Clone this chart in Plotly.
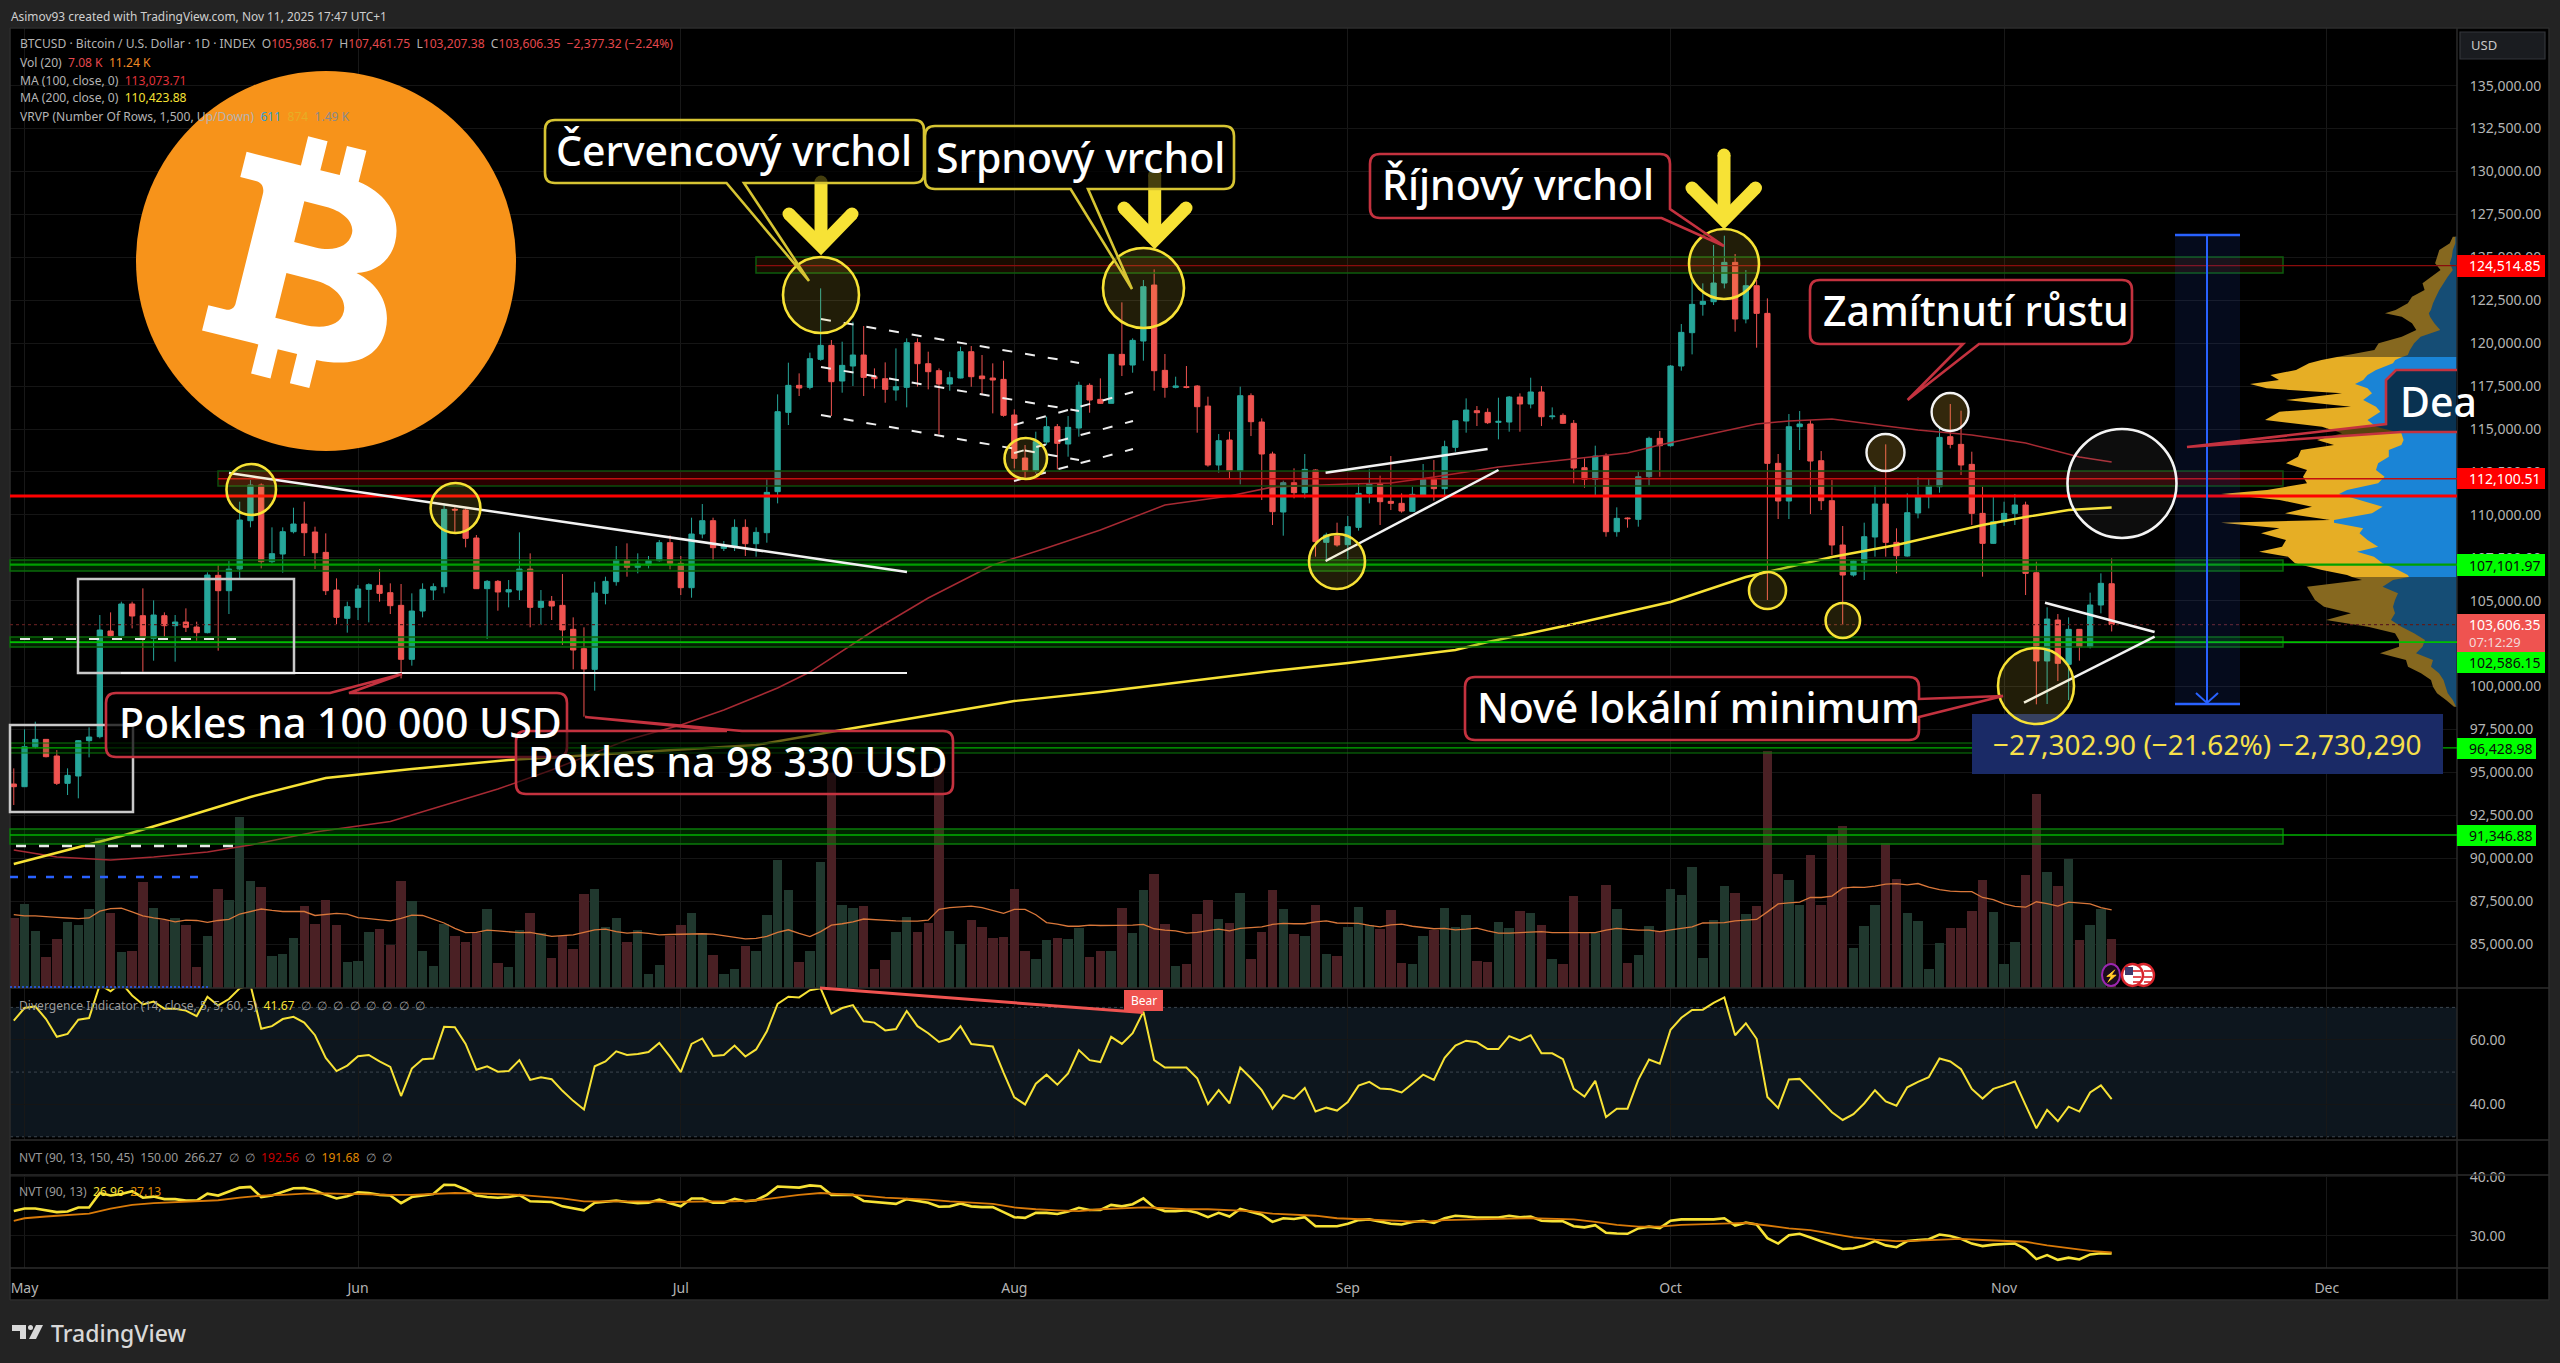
#!/usr/bin/env python3
import math
import pandas as pd
import plotly.graph_objects as go

W, H = 2560, 1363

# --- daily candles, 30 Apr to 11 Nov 2025
opens = [94319,94164,96494,96921,95951,94358,94786,96844,97077,103232,102960,104805,104125,102805,104125,103543,103756,103465,103135,106475,105581,106844,109659,111737,107271,107717,109018,109465,108999,107814,105620,
 103970,104611,105659,105892,105465,104727,101582,104397,105620,105814,110319,110280,108649,105698,106125,105504,105620,106844,104610,104960,104727,103329,102203,100999,105426,106106,107368,106941,107076,107329,108377,107173,
 105756,108882,109659,108047,108183,109270,108319,108960,111348,115969,117542,117426,119057,119872,117795,118668,119309,118047,117930,117270,117426,120027,118804,118396,117620,117969,119503,118086,117969,117891,
 115814,113309,112552,114241,115134,114125,115057,117542,116727,116494,119348,118727,120124,123386,118415,117426,117464,117503,116338,112901,114357,112552,116940,115406,113542,110164,111873,111290,112610,108397,108766,
 108261,109271,111251,111775,110785,110669,110203,111154,112067,111523,113930,115464,116066,115969,115387,115406,116863,116455,117155,115716,115794,115329,112746,112066,113426,109018,109814,109737,112222,114455,
 114027,118668,120610,122260,122415,123503,124707,121406,123348,121736,112999,110804,115134,115290,113154,110824,108242,106494,107212,108708,110630,108397,107601,110106,111057,111639,114552,114105,112940,110086,108338,
 109601,110086,110572,106629,101485,103873,101290,103329,102320,104747,105986.17]
highs = [95232,97504,97950,96921,96300,95232,96883,97620,104164,104319,104941,104941,105717,105018,104319,104164,104552,103776,106649,107076,107310,110766,112028,111834,109271,109271,110416,110766,109309,108921,106300,
 104941,105911,106009,106844,106009,105970,105426,106009,106009,110669,110436,110378,108824,106203,106203,106203,108979,107756,105620,105271,106552,104028,103446,106106,106397,108183,108339,107756,107600,108532,108804,107600,
 109833,110629,109833,108474,109736,109736,109270,112066,117018,118862,118241,119445,123192,120183,120086,121251,120998,118532,118882,119697,120280,120280,119503,118532,118338,119794,119833,119309,118824,118979,
 116144,114066,114843,115717,115290,115756,117756,117659,117950,119348,122377,120280,123678,124299,119367,118047,118668,117561,116882,114707,114843,117464,117076,115620,113678,111989,112708,113543,112649,108960,109543,
 109931,111834,112649,112280,113426,111251,111640,112960,113193,114319,115522,116785,116338,116202,116823,116921,117076,117989,117503,116260,115911,115523,113290,114027,113581,110436,109853,112494,114552,114881,
 118727,121115,123678,123484,125717,126260,125192,124260,123678,122610,113543,115872,116047,115523,113717,112028,109349,107368,109543,111737,114106,109213,111251,112183,112125,115037,116455,116066,113678,111639,111096,
 110765,111212,110765,107271,104611,104222,104028,103329,105465,106590,107461.75]
lows = [93096,94164,96397,95873,94261,93679,93485,95873,96980,102902,102902,103387,100863,101504,102902,101446,103174,102669,103096,102086,104222,106300,109271,106882,107174,106630,108921,107601,106844,105329,103620,
 103135,103873,103737,104941,104222,100475,101213,104028,105038,105426,108921,108106,105678,102766,104416,104610,105038,103446,103582,103873,102416,100999,98242,99756,104785,105873,106397,106591,106882,107270,106824,105329,
 105173,108630,107329,107892,107892,107600,107561,108377,110668,115231,116921,117309,118979,115756,117115,117503,116921,117367,116532,116649,116260,117464,117309,114688,117231,117950,117464,116979,115911,115717,
 112707,112124,112416,114066,112649,113387,114552,115950,116455,116494,118086,118280,118979,117231,116824,117367,117367,114785,112804,112454,112124,111775,114590,110862,109407,108785,110960,110960,107562,107271,108144,
 107368,109077,110669,109407,110280,110125,110164,111135,110824,111057,113678,114785,115173,115290,114397,114843,114843,116202,115173,115562,115290,111833,111581,111154,108727,108727,109251,109310,111697,112222,
 113969,118396,119348,121600,122222,123192,120668,121154,119736,105038,109756,109756,113775,110047,110280,107659,103582,106400,106203,107562,107562,106591,107562,109795,110377,111290,113872,112319,109407,106397,108300,
 109348,109407,105329,98960,98980,100320,99213,101504,102222,104261,103207.38]
closes = [94164,96494,96921,95912,94358,94824,96844,97057,103290,102960,104805,104106,102805,104164,103543,103756,103446,103135,106494,105581,106844,109698,111737,107271,107737,109018,109465,108960,107795,105581,104028,
 104649,105679,105931,105426,104708,101582,104397,105659,105814,110319,110280,108630,105698,106125,105504,105640,106844,104610,104960,104688,103290,102125,101019,105446,106125,107368,106941,107135,107329,108377,107173,105756,
 108882,109659,108086,108183,109270,108319,108979,111309,116008,117542,117387,119095,119872,117756,118707,119309,118008,117930,117309,117464,120027,118804,118338,117620,117989,119503,118047,117930,117853,115795,
 113290,112552,114261,115134,114164,115095,117542,116688,116494,119348,118727,120163,123290,118396,117426,117503,117426,116300,112901,114319,112552,116940,115425,113542,110183,111873,111290,112649,108436,108824,108242,
 109310,111251,111795,110766,110669,110222,111193,112067,111523,113970,115484,116105,115950,115367,115445,116863,116455,117155,115716,115755,115329,112727,112066,113425,109018,109795,109776,112222,114455,114027,
 118668,120629,122260,122435,123503,124707,121406,123348,121736,112998,110805,115134,115290,113134,110824,108242,106494,107310,108727,110630,108397,107620,110125,111057,111678,114513,114105,112902,110086,108338,109601,
 110086,110572,106591,101485,103931,101349,103329,102320,104747,106009,103606.35]

# volume in BTC thousands
volumes = [10.03,12.10,8.22,4.50,7.08,9.51,9.10,11.32,21.66,10.75,5.22,5.33,15.30,11.58,9.77,10.13,9.00,3.05,7.44,14.32,12.61,24.61,15.41,14.58,4.65,4.96,7.19,11.79,9.25,12.72,9.10,3.72,3.83,8.07,8.48,6.15,15.41,12.46,5.38,3.10,
 9.25,7.44,6.67,7.96,11.37,3.57,3.05,8.38,10.81,7.86,4.34,7.55,5.64,13.55,14.27,8.74,10.03,6.67,8.38,2.07,3.31,7.55,9.00,10.75,7.86,4.76,2.07,2.79,6.10,5.38,10.55,18.46,14.06,3.72,5.33,18.10,31.0,11.99,11.48,11.84,2.69,3.98,8.07,10.24,8.07,9.41,31.7,
 8.22,6.31,9.77,8.74,7.19,7.29,14.27,5.38,4.24,6.93,7.13,7.03,8.58,4.45,5.38,5.27,11.58,7.86,14.17,16.34,9.25,3.10,3.46,10.65,12.61,9.87,9.36,13.65,4.19,8.07,14.17,
 11.43,7.81,7.55,11.99,4.96,4.65,8.84,11.68,9.00,8.48,11.17,3.57,3.41,7.55,8.32,11.58,8.74,10.44,3.83,3.72,9.46,8.58,11.06,10.81,9.00,4.19,3.46,13.29,7.96,7.96,14.79,11.32,3.57,4.76,8.89,8.22,14.27,13.39,17.37,4.34,9.77,14.63,13.70,10.70,11.74,34.1,
 16.39,15.51,11.99,19.08,11.99,22.02,23.37,5.79,8.89,11.99,20.89,15.72,10.81,9.67,2.79,6.41,8.58,8.69,11.06,15.51,10.96,3.41,6.62,16.29,28.0,16.70,14.63,18.56,6.93,9.00,11.43,7.08]
vol_ma = [10.55,10.39,10.39,10.24,10.18,10.08,9.98,10.08,11.06,11.43,11.48,10.96,10.39,10.08,9.87,9.51,9.77,9.72,9.46,9.72,9.87,10.65,11.06,11.37,11.17,11.01,11.01,11.01,10.44,10.60,10.75,10.65,10.13,9.98,9.87,9.67,10.03,10.50,10.44,9.93,
 9.36,8.58,7.96,8.01,8.32,8.22,8.07,7.96,8.01,7.76,7.44,7.55,7.65,8.01,8.38,8.48,8.12,7.91,8.01,7.86,7.65,7.70,7.76,7.81,7.81,7.76,7.50,7.24,7.08,7.13,7.44,8.01,8.38,7.86,7.39,8.12,9.05,9.25,9.51,9.93,9.82,9.72,9.67,9.62,9.62,9.77,11.32,
 11.58,11.68,11.79,11.58,11.17,10.75,11.32,11.32,10.55,9.41,9.20,8.89,8.89,9.05,9.00,9.00,9.00,9.05,9.15,8.53,8.32,8.22,7.91,8.01,8.27,8.48,8.22,8.58,8.69,8.79,9.15,
 9.31,9.25,9.25,9.51,9.67,9.36,9.31,9.31,9.00,8.79,9.10,9.20,8.89,8.69,8.53,8.58,8.38,8.48,8.63,8.22,7.91,7.91,8.01,8.01,8.12,7.96,7.96,7.91,7.91,7.96,8.32,8.58,8.43,8.32,8.32,8.12,8.38,8.58,8.79,9.36,9.36,9.41,9.67,9.77,9.87,10.96,
 12.10,12.25,12.36,13.03,13.03,13.24,14.37,14.53,14.48,14.68,14.94,15.04,14.84,15.04,14.53,14.17,13.96,13.86,13.86,13.03,12.72,12.10,11.74,11.63,12.41,12.15,11.79,12.36,12.25,12.10,11.58,11.24]

# RSI of the divergence indicator
rsi = [65.9,69.8,70.3,66.4,60.9,61.8,66.2,66.7,77.0,75.0,77.6,73.7,70.9,71.8,69.6,69.6,69.0,67.3,73.3,70.6,72.6,75.9,77.0,63.4,64.2,66.4,67.1,65.3,61.4,54.4,50.3,52.0,54.9,55.3,53.3,51.6,42.6,51.1,54.0,54.2,
 64.0,63.9,58.7,50.7,51.8,50.1,50.3,53.7,47.6,48.4,47.8,44.2,41.1,38.4,51.8,53.3,56.4,55.3,55.6,56.2,59.0,54.8,50.0,58.7,60.4,55.0,55.3,58.2,54.8,57.0,62.6,71.1,73.3,73.1,75.3,75.9,68.1,69.8,70.7,65.7,65.3,62.9,63.3,68.9,64.2,62.0,59.3,
 60.3,64.2,58.7,58.3,57.9,49.8,42.2,40.0,46.4,49.2,46.1,49.6,56.8,53.7,53.1,60.9,58.7,62.0,68.7,53.7,51.4,51.4,51.4,48.1,40.1,44.4,40.3,51.4,48.1,44.4,38.7,
 42.9,41.8,45.1,37.8,39.0,38.1,40.7,45.8,47.0,44.9,44.7,43.7,46.4,49.2,47.6,54.4,58.2,59.7,59.2,57.1,57.1,61.1,59.8,61.4,55.8,55.8,54.0,44.8,42.4,47.3,36.1,38.7,38.7,47.6,53.9,52.6,63.1,66.8,69.2,69.3,71.4,73.1,61.4,65.1,60.3,42.3,
 38.9,47.7,47.9,44.6,41.1,37.6,35.2,37.0,40.3,44.4,40.9,39.6,45.3,47.0,48.4,54.2,53.3,50.9,44.8,41.8,44.8,45.9,47.1,39.8,32.6,38.3,34.8,39.3,37.8,43.7,45.9,41.67]

nvt = [34.17,34.60,34.60,34.30,33.99,34.11,34.79,34.79,37.24,36.81,37.06,37.55,36.44,36.63,36.20,36.20,35.95,35.95,37.12,36.81,37.55,38.16,38.28,36.56,36.81,37.36,38.04,38.10,37.67,36.93,36.32,36.69,37.36,37.24,36.93,36.81,35.52,36.56,36.75,37.06,
 38.65,38.59,37.85,36.81,36.56,36.44,36.56,36.87,35.83,35.83,35.71,34.97,34.60,34.30,35.58,35.71,35.95,35.71,35.52,35.58,36.13,35.52,34.97,36.32,36.32,35.58,35.58,36.26,35.83,36.01,36.93,38.34,38.28,38.16,38.53,38.40,36.93,36.93,36.93,35.89,35.71,35.58,35.40,36.20,35.83,35.58,34.91,
 34.97,35.46,34.97,34.85,34.85,33.99,33.13,33.01,33.87,33.87,33.68,34.11,34.72,34.36,34.36,35.22,34.97,35.34,36.32,34.79,34.17,34.17,34.30,33.87,33.13,33.87,33.25,34.54,33.99,33.56,32.33,
 32.95,32.82,33.13,31.60,31.60,31.60,32.03,32.64,32.76,32.33,32.03,31.90,32.33,32.52,32.15,32.95,33.38,33.25,33.07,33.07,33.07,33.38,33.13,33.25,32.52,32.45,32.45,31.60,31.41,31.78,30.49,30.37,30.31,31.23,31.53,31.29,32.52,32.76,32.76,32.64,32.76,32.95,31.72,32.21,31.90,29.57,
 28.65,30.06,30.31,29.69,29.08,28.47,27.73,27.85,28.34,29.08,28.34,28.04,29.08,29.26,29.39,30.18,29.94,29.45,28.65,28.22,28.47,28.59,28.65,27.73,26.01,26.69,25.89,26.26,25.95,26.81,27.00,26.96]

# signal line of NVT, read every second day
nvt_signal_days = [-1] + list(range(0, 195, 2))
nvt_signal = [32.52,32.95,33.25,33.44,33.74,34.60,35.22,35.52,35.71,35.83,36.01,36.44,36.81,36.93,37.12,37.18,37.06,37.06,36.93,36.93,37.06,37.24,37.18,37.06,36.93,36.63,36.32,35.83,35.83,35.89,35.83,35.71,35.83,35.83,35.83,36.01,36.44,36.93,37.24,37.06,36.81,36.44,36.32,36.13,35.83,35.58,35.40,34.79,34.48,34.30,34.17,34.48,34.60,34.79,34.66,34.48,34.48,34.30,34.17,33.74,
 33.56,33.38,32.95,32.82,32.64,32.52,32.33,32.64,32.76,32.82,32.89,32.95,32.82,32.76,32.33,31.84,31.53,31.53,31.84,31.96,32.15,32.15,31.72,31.23,30.92,30.31,29.69,29.33,29.08,29.14,29.33,29.45,29.26,29.08,28.96,28.34,27.85,27.42,27.13]

# moving averages, read at the bends
ma200_days = [-1,9,14,21,28,36,45,68,76,85,92,100,106,116,123,133,136,139,144,153,160,168,174,182,186,190,194]
ma200 = [89660,91291,92223,93563,94670,95194,95718,96592,97466,98398,99155,99679,100145,100902,101368,102126,102592,102999,103640,104922,106378,107543,108242,109407,109873,110281,110423.88]
ma100_days = [-1,3,8,12,17,21,27,34,40,44,49,56,61,65,70,73,79,84,90,95,100,104,106,112,116,123,127,131,137,143,149,152,161,164,168,173,176,181,186,191,194]
ma100 = [90476,90068,89893,90068,90359,90767,91524,92136,93272,94029,95136,96883,97757,98631,99912,100844,103291,105155,107077,108067,109116,110106,110572,111096,111620,111795,111853,112203,112785,113193,113601,114067,115290,115465,115581,115174,114941,114649,114183,113368,113073.71]

# volume profile: price row, total and up-volume, three stretches
vp_top_price = [126202,125814,125426,125037,124649,124260,123872,123484,123095,122707,122319,121930,121736,121542,121154,120765,120377,119989,119600,119309,119193]
vp_top_total = [4.2,7.2,17.7,19.8,21.9,16.5,26.1,34.5,32.4,45.0,49.2,61.4,72.0,55.2,45.0,40.7,55.2,78.4,82.6,110,120]
vp_top_up = [1.7,1.7,4.2,5.1,7.2,4.2,9.3,13.5,17.7,21.0,24.0,26.1,28.2,27.0,22.7,16.8,36.4,42.9,47.1,49.2,55]
vp_mid_price = [119193,119018,118824,118435,118144,117853,117620,117367,117076,116688,116300,116008,115523,115134,114746,114358,114067,113775,113387,112998,112610,112222,111833,111445,111212,110863,110474,110086,109697,109542,109212,108921,108533,108145,107853,107562,107174,106785,106494,106378]
vp_mid_total = [120,135.5,148,161,186.6,178,207,190.3,115,171,106,177.5,192,135,115,140,123,156,159,171,150,154,150,190,236,177.5,145,172,127,236,177.5,196,171,175,198,169,162,135,110,105]
vp_mid_up = [55,61.8,64,81,89.5,93.8,102,89.5,85,93.8,81,76.6,89.5,81,55.6,53.4,55.6,68.2,68.2,78.9,81,72.4,78.9,110,118,97.5,74.4,85,123,123,93.8,97.5,89.5,78.9,100,83,74.4,59,49.2,48]
vp_low_price = [106378,106203,105815,105426,105038,104650,104262,103873,103485,103097,102709,102320,101932,101544,101155,100767,100379,99990,99602,99214,98825]
vp_low_total = [105,95,150,146,142,133,106,131,89,62,58,58,77,51,49,36,26,24,20,11,3]
vp_low_up = [48,64,74.4,59,62,64,62,66,55.6,43,32,34.5,41,24,26,18,13.5,11.4,9.3,4.2,1]

price_ticks = list(range(85000, 135001, 2500))
month_ticks = ["2025-05-01", "2025-06-01", "2025-07-01", "2025-08-01", "2025-09-01", "2025-10-01", "2025-11-01", "2025-12-01"]
month_labels = ["May", "Jun", "Jul", "Aug", "Sep", "Oct", "Nov", "Dec"]

assert all(len(a) == 196 for a in [opens, highs, lows, closes, volumes, vol_ma, rsi, nvt]), [len(a) for a in [opens, highs, lows, closes, volumes, vol_ma, rsi, nvt]]
assert len(nvt_signal) == len(nvt_signal_days), (len(nvt_signal), len(nvt_signal_days))

start = pd.Timestamp("2025-05-01")
dates = pd.date_range("2025-04-30", periods=196)


def day_dates(days):
    return [start + pd.Timedelta(days=d) for d in days]


def fx(x):
    return x / W


def fy(y):
    return 1 - y / H


FONT = "Noto Sans"
GREEN, RED = "#26a69a", "#ef5350"
TEXT = "#b4b4b4"
GRID = "#151515"
YEL = "#f7e235"
BOXRED = "#c4323f"
BOXYEL = "#d6c433"

fig = go.Figure()
bar_colors = ["#20382e" if c >= o else "#4a2024" for o, c in zip(opens, closes)]
fig.add_trace(go.Bar(x=dates, y=volumes, marker=dict(color=bar_colors, line_width=0), width=0.88 * 86400000, yaxis="y", xaxis="x"))
fig.add_trace(go.Scatter(x=dates, y=vol_ma, mode="lines", line=dict(color="#d9773a", width=1.3), yaxis="y", xaxis="x"))

fig.add_trace(go.Candlestick(x=dates, open=opens, high=highs, low=lows, close=closes, xaxis="x", yaxis="y2",
                             increasing=dict(line=dict(color=GREEN, width=1), fillcolor=GREEN),
                             decreasing=dict(line=dict(color=RED, width=1), fillcolor=RED), whiskerwidth=0))
fig.add_trace(go.Scatter(x=day_dates(ma100_days), y=ma100, mode="lines", line=dict(color="#a62a33", width=1.5), xaxis="x", yaxis="y2"))
fig.add_trace(go.Scatter(x=day_dates(ma200_days), y=ma200, mode="lines", line=dict(color=YEL, width=2.4), xaxis="x", yaxis="y2"))

# volume profile grows leftwards from the price axis
for prices, total, up, c_total, c_up in [
    (vp_top_price, vp_top_total, vp_top_up, "#86681f", "#154d75"),
    (vp_mid_price, vp_mid_total, vp_mid_up, "#e6ae25", "#1a84d6"),
    (vp_low_price, vp_low_total, vp_low_up, "#86681f", "#154d75"),
]:
    fig.add_trace(go.Scatter(x=total, y=prices, mode="lines", line=dict(width=0, color=c_total), fill="tozerox", fillcolor=c_total, xaxis="x2", yaxis="y2"))
    fig.add_trace(go.Scatter(x=up, y=prices, mode="lines", line=dict(width=0, color=c_up), fill="tozerox", fillcolor=c_up, xaxis="x2", yaxis="y2"))

fig.add_trace(go.Scatter(x=dates, y=rsi, mode="lines", line=dict(color=YEL, width=2), xaxis="x", yaxis="y3"))
fig.add_trace(go.Scatter(x=dates, y=nvt, mode="lines", line=dict(color=YEL, width=2.6), xaxis="x", yaxis="y4"))
fig.add_trace(go.Scatter(x=day_dates(nvt_signal_days), y=nvt_signal, mode="lines", line=dict(color="#d97a08", width=1.8), xaxis="x", yaxis="y4"))

shapes = []
notes = []


def rect(x0, y0, x1, y1, fill="rgba(0,0,0,0)", line="rgba(0,0,0,0)", width=1, layer="above"):
    shapes.append(dict(type="rect", xref="paper", yref="paper", x0=fx(x0), x1=fx(x1), y0=fy(y0), y1=fy(y1),
                       fillcolor=fill, line=dict(color=line, width=width), layer=layer))


def seg(x0, y0, x1, y1, color="#ffffff", width=2, dash="solid"):
    shapes.append(dict(type="line", xref="paper", yref="paper", x0=fx(x0), x1=fx(x1), y0=fy(y0), y1=fy(y1),
                       line=dict(color=color, width=width, dash=dash), layer="above"))


def level(price, x0, x1, color, width=1, dash="solid"):
    shapes.append(dict(type="line", xref="paper", yref="y2", x0=fx(x0), x1=fx(x1), y0=price, y1=price,
                       line=dict(color=color, width=width, dash=dash), layer="above"))


def oval(x0, y0, x1, y1, line=YEL, fill="rgba(255,225,60,0.13)", width=2.6):
    shapes.append(dict(type="circle", xref="paper", yref="paper", x0=fx(x0), x1=fx(x1), y0=fy(y0), y1=fy(y1),
                       fillcolor=fill, line=dict(color=line, width=width), layer="above"))


def path(d, fill="rgba(0,0,0,0)", line="rgba(0,0,0,0)", width=1):
    shapes.append(dict(type="path", xref="paper", yref="paper", path=d, fillcolor=fill, line=dict(color=line, width=width), layer="above"))


def pt(x, y):
    return f"{fx(x):.6f},{fy(y):.6f}"


def polyline(pts, close=False):
    d = "M " + " L ".join(pt(x, y) for x, y in pts)
    return d + (" Z" if close else "")


def callout(x0, y0, x1, y1, color, top=(), right=(), bottom=(), r=10, sharp_br=False, fill="rgba(0,0,0,0.72)"):
    d = f"M {pt(x0 + r, y0)}"
    for p in top:
        d += f" L {pt(*p)}"
    d += f" L {pt(x1 - r, y0)} Q {pt(x1, y0)} {pt(x1, y0 + r)}"
    for p in right:
        d += f" L {pt(*p)}"
    if not sharp_br:
        d += f" L {pt(x1, y1 - r)} Q {pt(x1, y1)} {pt(x1 - r, y1)}"
    for p in bottom:
        d += f" L {pt(*p)}"
    d += f" L {pt(x0 + r, y1)} Q {pt(x0, y1)} {pt(x0, y1 - r)} L {pt(x0, y0 + r)} Q {pt(x0, y0)} {pt(x0 + r, y0)} Z"
    path(d, fill=fill, line=color, width=2.6)


def text(x, y, s, size=13, color=TEXT, anchor="left", weight=None, **kw):
    f = dict(family=FONT, size=size, color=color)
    if weight:
        f["weight"] = weight
    notes.append(dict(xref="paper", yref="paper", x=fx(x), y=fy(y), text=s, showarrow=False, xanchor=anchor, yanchor="middle",
                      font=f, borderpad=0, **kw))


def arrow(x, y0, y1, xl, xr, yh):
    seg(x, y0, x, y1 - 8, YEL, 13)
    path(polyline([(xl, yh), (x, y1 - 8), (xr, yh)]), line=YEL, width=13)
    for cx, cy in [(x, y0), (xl, yh), (xr, yh)]:
        shapes.append(dict(type="circle", xref="paper", yref="paper", x0=fx(cx - 6.5), x1=fx(cx + 6.5), y0=fy(cy - 6.5), y1=fy(cy + 6.5),
                           fillcolor=YEL, line_width=0, layer="above"))


# separators
for y in [988, 1140, 1175, 1268, 1300]:
    seg(10, y, 2549, y, "#2c2c2c", 1.5)
seg(2457, 28, 2457, 1300, "#2a2a2a", 1.5)
seg(2549, 28, 2549, 1300, "#2c2c2c", 1.5)
seg(10, 28, 10, 1300, "#2c2c2c", 1.5)
seg(10, 28, 2549, 28, "#2c2c2c", 1.5)
# the chart's black ground also runs behind the axis strips
rect(2457, 28, 2549, 1300, fill="#000000", layer="below")
rect(10, 1140, 2457, 1175, fill="#000000", layer="below")
rect(10, 1268, 2457, 1300, fill="#000000", layer="below")

# bitcoin logo
oval(136, 71, 516, 451, line="#f7931a", fill="#f7931a", width=0)
LOGO_X, LOGO_Y, LOGO_A = 300, 260, math.radians(14)


def lg(x, y):
    return (LOGO_X + x * math.cos(LOGO_A) - y * math.sin(LOGO_A), LOGO_Y + x * math.sin(LOGO_A) + y * math.cos(LOGO_A))


def lp(x, y):
    return pt(*lg(x, y))


logo = (f"M {lp(-78,-92)} L {lp(-22,-92)} L {lp(-22,-122)} L {lp(-2,-122)} L {lp(-2,-92)} L {lp(18,-92)} L {lp(18,-122)} L {lp(38,-122)} L {lp(38,-90)} "
        f"C {lp(70,-85)} {lp(88,-65)} {lp(88,-40)} C {lp(88,-20)} {lp(75,-6)} {lp(58,-1)} C {lp(85,5)} {lp(100,25)} {lp(100,48)} C {lp(100,78)} {lp(75,92)} {lp(40,93)} "
        f"L {lp(40,122)} L {lp(20,122)} L {lp(20,92)} L {lp(0,92)} L {lp(0,122)} L {lp(-20,122)} L {lp(-20,92)} L {lp(-78,92)} L {lp(-78,66)} L {lp(-60,66)} "
        f"C {lp(-55,66)} {lp(-52,62)} {lp(-52,58)} L {lp(-52,-55)} C {lp(-52,-62)} {lp(-56,-66)} {lp(-62,-66)} L {lp(-78,-66)} Z "
        f"M {lp(-10,-58)} L {lp(12,-58)} C {lp(30,-58)} {lp(44,-50)} {lp(44,-38)} C {lp(44,-24)} {lp(30,-16)} {lp(12,-16)} L {lp(-10,-16)} Z "
        f"M {lp(-10,16)} L {lp(18,16)} C {lp(40,16)} {lp(55,26)} {lp(55,40)} C {lp(55,54)} {lp(40,62)} {lp(18,62)} L {lp(-10,62)} Z")
path(logo, fill="#ffffff")

# support and resistance zones
rect(756, 257, 2283, 273, fill="rgba(150,70,0,0.16)", line="#0d5c0d", width=1.5)
rect(218, 471, 2283, 486, fill="rgba(190,0,0,0.22)", line="#0d4d0d", width=1.5)
rect(10, 560, 2283, 571, fill="rgba(0,130,0,0.28)", line="#0a6a0a", width=1.5)
rect(10, 637, 2283, 647, fill="rgba(0,130,0,0.25)", line="#0a6a0a", width=1.5)
rect(10, 743, 2283, 753, fill="rgba(0,90,0,0.16)", line="#0a7a0a", width=1.2)
rect(10, 829, 2283, 844, fill="rgba(0,130,0,0.28)", line="#0a7a0a", width=1.5)
level(124514.85, 756, 2457, "#8a0c0c", 1.3)
level(112100.51, 218, 2457, "#c20f0f", 1.5)
level(111096, 10, 2457, "#ff0000", 3)
level(107101.97, 10, 2457, "#00a000", 2.2)
level(102586.15, 10, 2457, "#00c000", 1.6)
level(96428.98, 10, 2457, "#00b000", 1.2)
level(91346.88, 10, 2457, "#00b000", 1.6)
level(103606.35, 10, 2457, "#5a1c1c", 1.2, "dot")

# boxes and hand drawn trend lines
rect(78, 579, 294, 673, line="#c9c9c9", width=2.5)
rect(10, 725, 133, 812, line="#c9c9c9", width=2.5)
seg(121, 673, 907, 673, "#f2f2f2", 2)
seg(229, 473, 907, 572, "#f2f2f2", 2.5)
seg(20, 639, 236, 639, "#e8e8e8", 2, "10px,13px")
seg(16, 846, 237, 846, "#e8e8e8", 2.5, "10px,13px")
seg(10, 877, 204, 877, "#2962ff", 2.5, "8px,10px")
seg(10, 987, 210, 987, "#2962ff", 1.5, "2px,2px")
seg(1325.6, 472.7, 1487.6, 449, "#f2f2f2", 2.5)
seg(1325.6, 561, 1498.5, 470, "#f2f2f2", 2.5)
seg(2045, 602.7, 2154.6, 632, "#f2f2f2", 2.5)
seg(2024, 702.7, 2154.6, 636.7, "#f2f2f2", 2.5)
for a in [(821, 319, 1079, 363), (821, 367, 1079, 411), (821, 415, 1079, 460),
          (1014, 425, 1133, 392), (1014, 453, 1133, 421), (1014, 481, 1133, 449)]:
    seg(*a, "#eeeeee", 2, "10px,13px")

# measure tool
rect(2175, 235, 2240, 704, fill="rgba(41,98,255,0.11)")
seg(2175, 235, 2240, 235, "#2962ff", 2.5)
seg(2175, 704, 2240, 704, "#2962ff", 2.5)
seg(2207, 235, 2207, 703, "#2962ff", 2)
path(polyline([(2196, 693), (2207, 703), (2218, 693)]), line="#2962ff", width=2)
rect(1972, 714, 2443, 774, fill="#1a2a66")
text(2207.5, 744, "−27,302.90 (−21.62%) −2,730,290", 28, "#f7e04a", "center")

# circles
for a in [(226.5, 464, 276, 515), (430.6, 483, 480.4, 533), (783, 257, 859, 333), (1103, 248, 1184, 328), (1004.5, 438, 1047, 479),
          (1689, 229, 1759, 299), (1309, 534, 1365, 589), (1749, 572, 1786, 609), (1825.6, 603, 1860, 638), (1998, 648, 2074, 724)]:
    oval(*a)
oval(1866.5, 434, 1904.5, 471, line="#f4f4f4", fill="rgba(255,200,60,0.2)", width=2.4)
oval(1931.6, 393, 1968.6, 431, line="#f4f4f4", fill="rgba(255,200,60,0.2)", width=2.4)
oval(2067.5, 429, 2176.5, 538, line="#f4f4f4", fill="rgba(255,255,255,0.05)", width=2.6)

arrow(821, 182, 254, 789, 852, 214)
arrow(1154.7, 175, 248, 1124, 1186, 208)
arrow(1724, 155, 228, 1692, 1755.5, 188)

# callouts
callout(545, 120, 924, 183, BOXYEL, bottom=[(744, 183), (809, 281), (726.5, 183)])
callout(925, 126, 1234, 189, BOXYEL, bottom=[(1088, 189), (1132, 289), (1070.6, 189)])
callout(1370, 154, 1670, 218, BOXRED, right=[(1670, 209), (1724, 246), (1661.6, 218)], sharp_br=True)
callout(1810, 280, 2132, 344, BOXRED, bottom=[(1979, 344), (1907.6, 400), (1963, 344)])
callout(106, 693, 567, 757, BOXRED, top=[(330, 693), (402, 674), (349, 693)])
callout(516, 731, 953, 794, BOXRED, top=[(727, 731), (585, 717), (742, 731)], fill="rgba(0,0,0,0.55)")
callout(1465, 677, 1919, 740, BOXRED, right=[(1919, 699), (2003, 696), (1919, 717)])
path(polyline([(2457, 370), (2396, 370), (2386, 380), (2386, 424), (2187, 447), (2401, 432), (2457, 432)]), fill="rgba(0,0,0,0.62)", line=BOXRED, width=2.6)

# divergence marker
seg(820, 988, 1143, 1012.6, RED, 3)
rect(1124, 990, 1163, 1011, fill=RED)
text(1143.5, 1000.5, "Bear", 12, "#ffffff", "center")

# flags and event icons at the last candle
oval(2102, 964, 2120, 986, line="#9c27b0", fill="#1a0b1e", width=2)
text(2111, 975, "⚡", 12, "#9c27b0", "center")
oval(2133, 964, 2154, 986, line="#d8232a", fill="#ffffff", width=2.4)
oval(2122, 964, 2143, 986, line="#d8232a", fill="#ffffff", width=2.4)
rect(2125, 967, 2133, 975, fill="#3c3b6e")
for y in [971, 977, 982]:
    seg(2133, y, 2141, y, "#d8232a", 1.6)
    seg(2144, y, 2152, y, "#d8232a", 1.6)

# right axis furniture
rect(2460, 32, 2545, 59, fill="#1a1c20", line="#32353a", width=1.2)
text(2470, 45, "USD", 13, "#c8c8c8")
tags = [(255, 277, 2545, "#ff0000", "124,514.85", "#ffffff"), (468, 489, 2545, "#ff0000", "112,100.51", "#ffffff"),
        (554, 576, 2545, "#00ff00", "107,101.97", "#0a0a0a"), (652, 673, 2545, "#00ff00", "102,586.15", "#0a0a0a"),
        (738, 759, 2536, "#00ff00", "96,428.98", "#0a0a0a"), (825, 846, 2536, "#00ff00", "91,346.88", "#0a0a0a")]
rect(2457, 614, 2545, 652, fill=RED)
for y0, y1, x1, col, s, tc in tags:
    rect(2457, y0, x1, y1, fill=col)
    text(2468, (y0 + y1) / 2, s, 14, tc)
text(2468, 624.5, "103,606.35", 14, "#ffffff")
text(2468, 642, "07:12:29", 13, "#f4d9d8")

# tradingview mark in the footer
path(polyline([(12, 1325), (26, 1325), (26, 1339), (20, 1339), (20, 1331), (12, 1331)], True), fill="#d8d8d8")
path(polyline([(36, 1325), (43, 1325), (36, 1339), (29, 1339)], True), fill="#d8d8d8")
shapes.append(dict(type="circle", xref="paper", yref="paper", x0=fx(28), x1=fx(33), y0=fy(1325), y1=fy(1330), fillcolor="#d8d8d8", line_width=0, layer="above"))

# band of the oscillator
shapes.append(dict(type="rect", xref="paper", yref="y3", x0=fx(10), x1=fx(2457), y0=30, y1=70, fillcolor="#0d161e", line_width=0, layer="below"))
for v in [70, 50, 30]:
    shapes.append(dict(type="line", xref="paper", yref="y3", x0=fx(10), x1=fx(2457), y0=v, y1=v,
                       line=dict(color="#3d4650", width=1, dash="dot"), layer="below"))

# callout labels
BIG = 41
text(555, 150, "Červencový vrchol", BIG, "#ffffff", weight=500)
text(935, 157, "Srpnový vrchol", BIG, "#ffffff", weight=500)
text(1381, 184, "Říjnový vrchol", BIG, "#ffffff", weight=500)
text(1822, 310, "Zamítnutí růstu", BIG, "#ffffff", weight=500)
text(118, 722, "Pokles na 100 000 USD", BIG, "#ffffff", weight=500)
text(527, 761, "Pokles na 98 330 USD", BIG, "#ffffff", weight=500)
text(1476, 707, "Nové lokální minimum", BIG, "#ffffff", weight=500)
text(2399, 401, "Dea", BIG, "#ffffff", weight=500)

# legend lines
text(10, 16, "Asimov93 created with TradingView.com, Nov 11, 2025 17:47 UTC+1", 11.9, "#cfcfcf")
r = "#e5484d"
LEG = 12.1
text(19, 44, "BTCUSD · Bitcoin / U.S. Dollar · 1D · INDEX  O"
     f"<span style='color:{r}'>105,986.17</span>  H<span style='color:{r}'>107,461.75</span>  L<span style='color:{r}'>103,207.38</span>  "
     f"C<span style='color:{r}'>103,606.35</span>  <span style='color:{r}'>−2,377.32 (−2.24%)</span>", LEG)
text(19, 62, f"Vol (20)  <span style='color:{r}'>7.08 K</span>  <span style='color:#f08a24'>11.24 K</span>", LEG)
text(19, 80, "MA (100, close, 0)  <span style='color:#e0323a'>113,073.71</span>", LEG)
text(19, 98, "MA (200, close, 0)  <span style='color:#f7e235'>110,423.88</span>", LEG)
text(19, 116, "VRVP (Number Of Rows, 1,500, Up/Down)  <span style='color:#2f9fd8'>611</span>  <span style='color:#e6ae25'>874</span>  <span style='color:#8a8a8a'>1.49 K</span>", LEG)
text(18, 1005, "Divergence Indicator (14, close, 5, 5, 60, 5)  <span style='color:#f7e235'>41.67</span>  <span style='color:#9a9a9a'>∅  ∅  ∅  ∅  ∅  ∅  ∅  ∅</span>", LEG, "#9a9a9a")
text(18, 1157, "NVT (90, 13, 150, 45)  150.00  266.27  ∅  ∅  <span style='color:#c80000'>192.56</span>  ∅  <span style='color:#e08a00'>191.68</span>  ∅  ∅", LEG, "#9a9a9a")
text(18, 1191, "NVT (90, 13)  <span style='color:#f7e235'>26.96</span>  <span style='color:#e08a00'>27.13</span>", LEG, "#9a9a9a")
text(50, 1332.5, "TradingView", 23, "#d8d8d8", weight=500)

dom = lambda top, bottom: [fy(bottom), fy(top)]
x_dom = [fx(10), fx(2457)]
tick_font = dict(family=FONT, size=14, color=TEXT)
y_common = dict(side="right", anchor="x", showline=False, zeroline=False, gridcolor=GRID, gridwidth=1, ticks="outside", ticklen=9,
                tickcolor="rgba(0,0,0,0)", tickfont=tick_font, tickmode="array", fixedrange=True, automargin=False)
price_labels = ["" if v == 102500 else f"{v:,.2f}" for v in price_ticks]

fig.update_layout(
    width=W, height=H, autosize=False, margin=dict(l=0, r=0, t=0, b=0, pad=0),
    paper_bgcolor="#232323", plot_bgcolor="#000000", showlegend=False, hovermode=False,
    bargap=0, boxgap=0.3,
    xaxis=dict(domain=x_dom, anchor="y4", type="date", range=["2025-04-29 15:36", "2025-12-13 02:24"], rangeslider=dict(visible=False),
               tickmode="array", tickvals=month_ticks, ticktext=month_labels, tickfont=tick_font, showline=False, zeroline=False,
               gridcolor="#181818", ticks="outside", ticklen=7, tickcolor="rgba(0,0,0,0)", automargin=False),
    xaxis2=dict(overlaying="x", anchor="y2", domain=x_dom, range=[2447, 0], visible=False, automargin=False),
    yaxis=dict(domain=dom(28, 988), anchor="x", range=[0, 138.2], visible=False, fixedrange=True, automargin=False),
    yaxis2=dict(overlaying="y", range=[82437, 138359], tickvals=price_ticks, ticktext=price_labels, **y_common),
    yaxis3=dict(domain=dom(988, 1140), range=[29, 76], tickvals=[40, 60], ticktext=["40.00", "60.00"], **y_common),
    yaxis4=dict(domain=dom(1175, 1268), range=[24.5, 40.3], tickvals=[30, 40], ticktext=["30.00", "40.00"], **y_common),
    shapes=shapes, annotations=notes,
)

pin = ("document.documentElement.style.margin='0';document.body.style.margin='0';document.body.style.overflow='hidden';"
       "var g=document.querySelector('.plotly-graph-div');g.style.position='fixed';g.style.top='0';g.style.left='0';")
fig.write_html("out.html", config=dict(displayModeBar=False), post_script=pin)
